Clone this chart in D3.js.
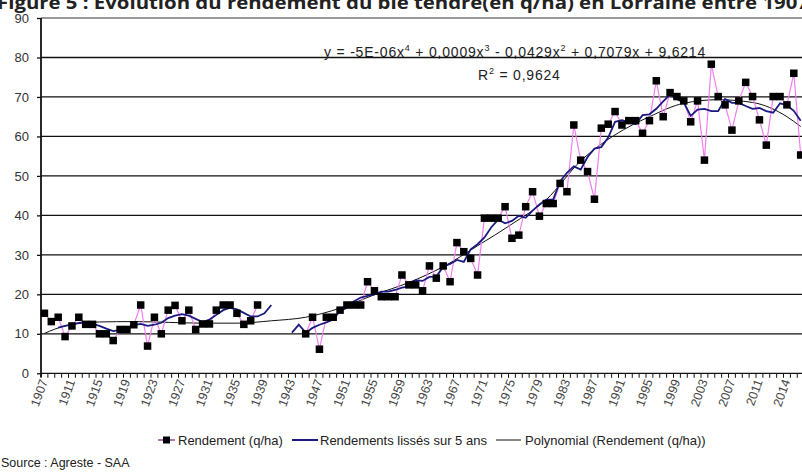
<!DOCTYPE html>
<html>
<head>
<meta charset="utf-8">
<script src="https://d3js.org/d3.v7.min.js"></script>
<style>
body { margin: 0; background: #fff; }
svg { display: block; font-family: 'Liberation Sans', Arial, sans-serif; }
</style>
</head>
<body>
<div id="chart"></div>
<script>

var width = 802;
var height = 474;

// 111 categories, index 0 = 1907 ... index 104 = 2011
var nCat = 111;

// tick labels, every 4th category
var tickLabels = ["1907","1911","1915","1919","1923","1927","1931","1935","1939","1943",
  "1947","1951","1955","1959","1963","1967","1971","1975","1979","1983","1987","1991",
  "1995","1999","2003","2007","2011","2014"];

// Rendement (q/ha), index 0 = 1907, null = no data
var rendement = [
  15.2, 13.1, 14.2, 9.3, 12, 14.2, 12.4, 12.4, 10, 10,          // 1907-1916
  8.3, 11.1, 11.1, 12.3, 17.3, 6.9, 14.2, 10, 16, 17.2,          // 1917-1926
  13.3, 16, 11.1, 12.5, 12.5, 16, 17.3, 17.3, 15.2, 12.4,        // 1927-1936
  13.3, 17.3, null, null, null, null, null, null, 10, 14.2,      // 1937-1946
  6.1, 14.2, 14.2, 16, 17.3, 17.3, 17.3, 23.2, 20.9, 19.4,       // 1947-1956
  19.4, 19.4, 24.9, 22.4, 22.4, 20.9, 27.2, 24.1, 27.2, 23.2,    // 1957-1966
  33.1, 30.8, 29.1, 24.9, 39.3, 39.3, 39.3, 42.2, 34.2, 35,      // 1967-1976
  42.2, 46, 39.8, 43, 43, 48.1, 46, 62.9, 54, 51.1,              // 1977-1986
  44.1, 62.1, 63.1, 66.3, 62.9, 64, 64, 60.8, 64, 74.1,          // 1987-1996
  65, 71.1, 70.1, 69, 63.7, 69, 54, 78.3, 70.1, 68,              // 1997-2006
  61.6, 69, 73.7, 70.1, 64.2, 57.8, 70.1, 70.1, 68, 76,          // 2007-...
  55.3
];

// Rendements lissés sur 5 ans
var lisses = [
  null, null, 11.6, 12, 12.4, 12.8, 13, 12.5, 12, 11.3,
  10.7, 11, 11.6, 12.2, 12.5, 12, 12.3, 12.8, 14, 14.6,
  15, 14.6, 13.8, 13, 13.6, 14.8, 16, 16.6, 16.2, 15.3,
  14.4, 14.4, 15.2, 17.3, null, null, 10.3, 12.3, 10.3, 11.5,
  12.3, 12.9, 13.6, 15.8, 16.6, 18.2, 19.2, 19.6, 20, 20.7,
  20.7, 21.1, 21.7, 22, 23.6, 23.4, 24.4, 24.5, 27, 27.7,
  28.7, 28.2, 31.4, 32.7, 34.4, 37, 38.9, 38, 38.6, 39.9,
  39.4, 41.2, 42.8, 44, 44, 48.6, 50.8, 52.4, 51.6, 54.8,
  56.9, 57.3, 59.7, 63.7, 64.1, 63.6, 63.1, 65.4, 65.6, 67,
  68.9, 70.6, 69.4, 68.6, 65.2, 66.8, 67, 66.4, 66.4, 69.5,
  68.5, 68.5, 67.7, 67, 67.2, 66.4, 66, 68.4, 67.9, 66.5,
  64
];

// Polynomial trend, read every 5 categories (index, value)
var trendIdx = [0, 3, 8, 13, 18, 23, 28, 33, 38, 43, 48, 53, 58, 63, 68, 73, 78, 83, 88, 93, 98, 103, 108, 110];
var trendVal = [10.1, 12, 13, 13.1, 12.9, 12.7, 12.7, 13.3, 14.2, 16.5, 19.9, 23, 27, 32.3, 37.8, 44, 53.8, 60.4, 65, 68.4, 69.3, 68.6, 65, 62.5];

var yTicks = [0, 10, 20, 30, 40, 50, 60, 70, 80, 90];

var plotLeft = 41, plotBottom = 373.3, plotTop = 18;
var step = 6.875;

var svg = d3.select("#chart").append("svg")
  .attr("width", width)
  .attr("height", height);

var x = d3.scaleLinear()
  .domain([-0.5, nCat - 0.5])
  .range([plotLeft, plotLeft + nCat * step]);

var y = d3.scaleLinear()
  .domain([0, 90])
  .range([plotBottom, plotTop]);

// title (cut at top and right like the source)
svg.append("text")
  .attr("x", -3)
  .attr("y", 8.5)
  .attr("font-family", "'Open Sans', sans-serif")
  .attr("font-weight", "bold")
  .attr("font-size", 17)
  .attr("fill", "#222")
  .attr("textLength", 812)
  .attr("lengthAdjust", "spacingAndGlyphs")
  .text("Figure 5 : Evolution du rendement du blé tendre(en q/ha) en Lorraine entre 1907");

// gridlines
svg.append("g")
  .selectAll("line")
  .data(yTicks)
  .enter()
  .append("line")
  .attr("x1", plotLeft)
  .attr("x2", width)
  .attr("y1", d => y(d))
  .attr("y2", d => y(d))
  .style("stroke", d => d == 90 ? "#777" : "#111")
  .style("stroke-width", 1.3);

// y axis
var yAxis = d3.axisLeft(y).tickValues(yTicks).tickSize(4).tickPadding(8);
var gy = svg.append("g")
  .attr("transform", "translate(" + plotLeft + ",0)")
  .call(yAxis);
gy.select(".domain").remove();
gy.selectAll("line").style("stroke", "#111").style("stroke-width", 1.3);
gy.selectAll("text").attr("font-size", 13).attr("fill", "#333")
  .attr("font-family", "'Liberation Sans', Arial, sans-serif");
svg.append("line")
  .attr("x1", plotLeft).attr("x2", plotLeft)
  .attr("y1", plotTop).attr("y2", plotBottom + 4)
  .style("stroke", "#111").style("stroke-width", 1.8);

// x axis ticks at category boundaries
svg.append("g")
  .selectAll("line")
  .data(d3.range(nCat + 1))
  .enter()
  .append("line")
  .attr("x1", d => x(d - 0.5))
  .attr("x2", d => x(d - 0.5))
  .attr("y1", plotBottom)
  .attr("y2", plotBottom + 4.5)
  .style("stroke", "#111")
  .style("stroke-width", 1);

// x labels
svg.append("g")
  .selectAll("text")
  .data(tickLabels)
  .enter()
  .append("text")
  .attr("transform", (d, i) => {
    var idx = i == tickLabels.length - 1 ? 108 : i * 4;
    return "translate(" + (x(idx) + 3.5) + "," + (plotBottom + 8) + ") rotate(-70)";
  })
  .attr("text-anchor", "end")
  .attr("font-size", 12.5)
  .attr("fill", "#444")
  .text(d => d);

// trend line
var trendData = trendIdx.map((d, i) => [d, trendVal[i]]);
svg.append("path")
  .datum(trendData)
  .attr("d", d3.line().x(d => x(d[0])).y(d => y(d[1])).curve(d3.curveMonotoneX))
  .style("fill", "none")
  .style("stroke", "#111")
  .style("stroke-width", 1);

// rendement line (pink)
var lineDef = d3.line()
  .defined(d => d != null)
  .x((d, i) => x(i))
  .y(d => y(d));

svg.append("path")
  .datum(rendement)
  .attr("d", lineDef)
  .style("fill", "none")
  .style("stroke", "#f27ef2")
  .style("stroke-width", 1.2);

// smoothed line
svg.append("path")
  .datum(lisses)
  .attr("d", lineDef)
  .style("fill", "none")
  .style("stroke", "#1a1a80")
  .style("stroke-width", 1.8);

// markers
svg.append("g")
  .selectAll("rect")
  .data(rendement.map((d, i) => ({i: i, v: d})).filter(d => d.v != null))
  .enter()
  .append("rect")
  .attr("x", d => x(d.i) - 3.75)
  .attr("y", d => y(d.v) - 3.75)
  .attr("width", 7.5)
  .attr("height", 7.5)
  .style("fill", "#000");

// equation
svg.append("text")
  .attr("x", 324).attr("y", 56.5)
  .attr("font-size", 14).attr("fill", "#222")
  .attr("letter-spacing", 0.8)
  .html("y = -5E-06x<tspan dy='-6' font-size='9'>4</tspan><tspan dy='6'> + 0,0009x</tspan><tspan dy='-6' font-size='9'>3</tspan><tspan dy='6'> - 0,0429x</tspan><tspan dy='-6' font-size='9'>2</tspan><tspan dy='6'> + 0,7079x + 9,6214</tspan>");
svg.append("text")
  .attr("x", 478).attr("y", 80)
  .attr("font-size", 14).attr("fill", "#222")
  .attr("letter-spacing", 0.8)
  .html("R<tspan dy='-6' font-size='9'>2</tspan><tspan dy='6'> = 0,9624</tspan>");

// legend
var lg = svg.append("g").attr("font-size", 13).attr("fill", "#222");
lg.append("line").attr("x1", 158).attr("x2", 175).attr("y1", 440).attr("y2", 440)
  .style("stroke", "#a040a0").style("stroke-width", 1.5);
lg.append("rect").attr("x", 163).attr("y", 436.5).attr("width", 7).attr("height", 7).style("fill", "#000");
lg.append("text").attr("x", 178).attr("y", 444.5).text("Rendement (q/ha)");
lg.append("line").attr("x1", 292).attr("x2", 318).attr("y1", 440).attr("y2", 440)
  .style("stroke", "#1a1a80").style("stroke-width", 2);
lg.append("text").attr("x", 320).attr("y", 444.5).text("Rendements lissés sur 5 ans");
lg.append("line").attr("x1", 496).attr("x2", 521).attr("y1", 440).attr("y2", 440)
  .style("stroke", "#111").style("stroke-width", 1);
lg.append("text").attr("x", 525).attr("y", 444.5).text("Polynomial (Rendement (q/ha))");

svg.append("text")
  .attr("x", 1).attr("y", 467)
  .attr("font-size", 12.5).attr("fill", "#222")
  .text("Source : Agreste - SAA");

</script>
</body>
</html>
